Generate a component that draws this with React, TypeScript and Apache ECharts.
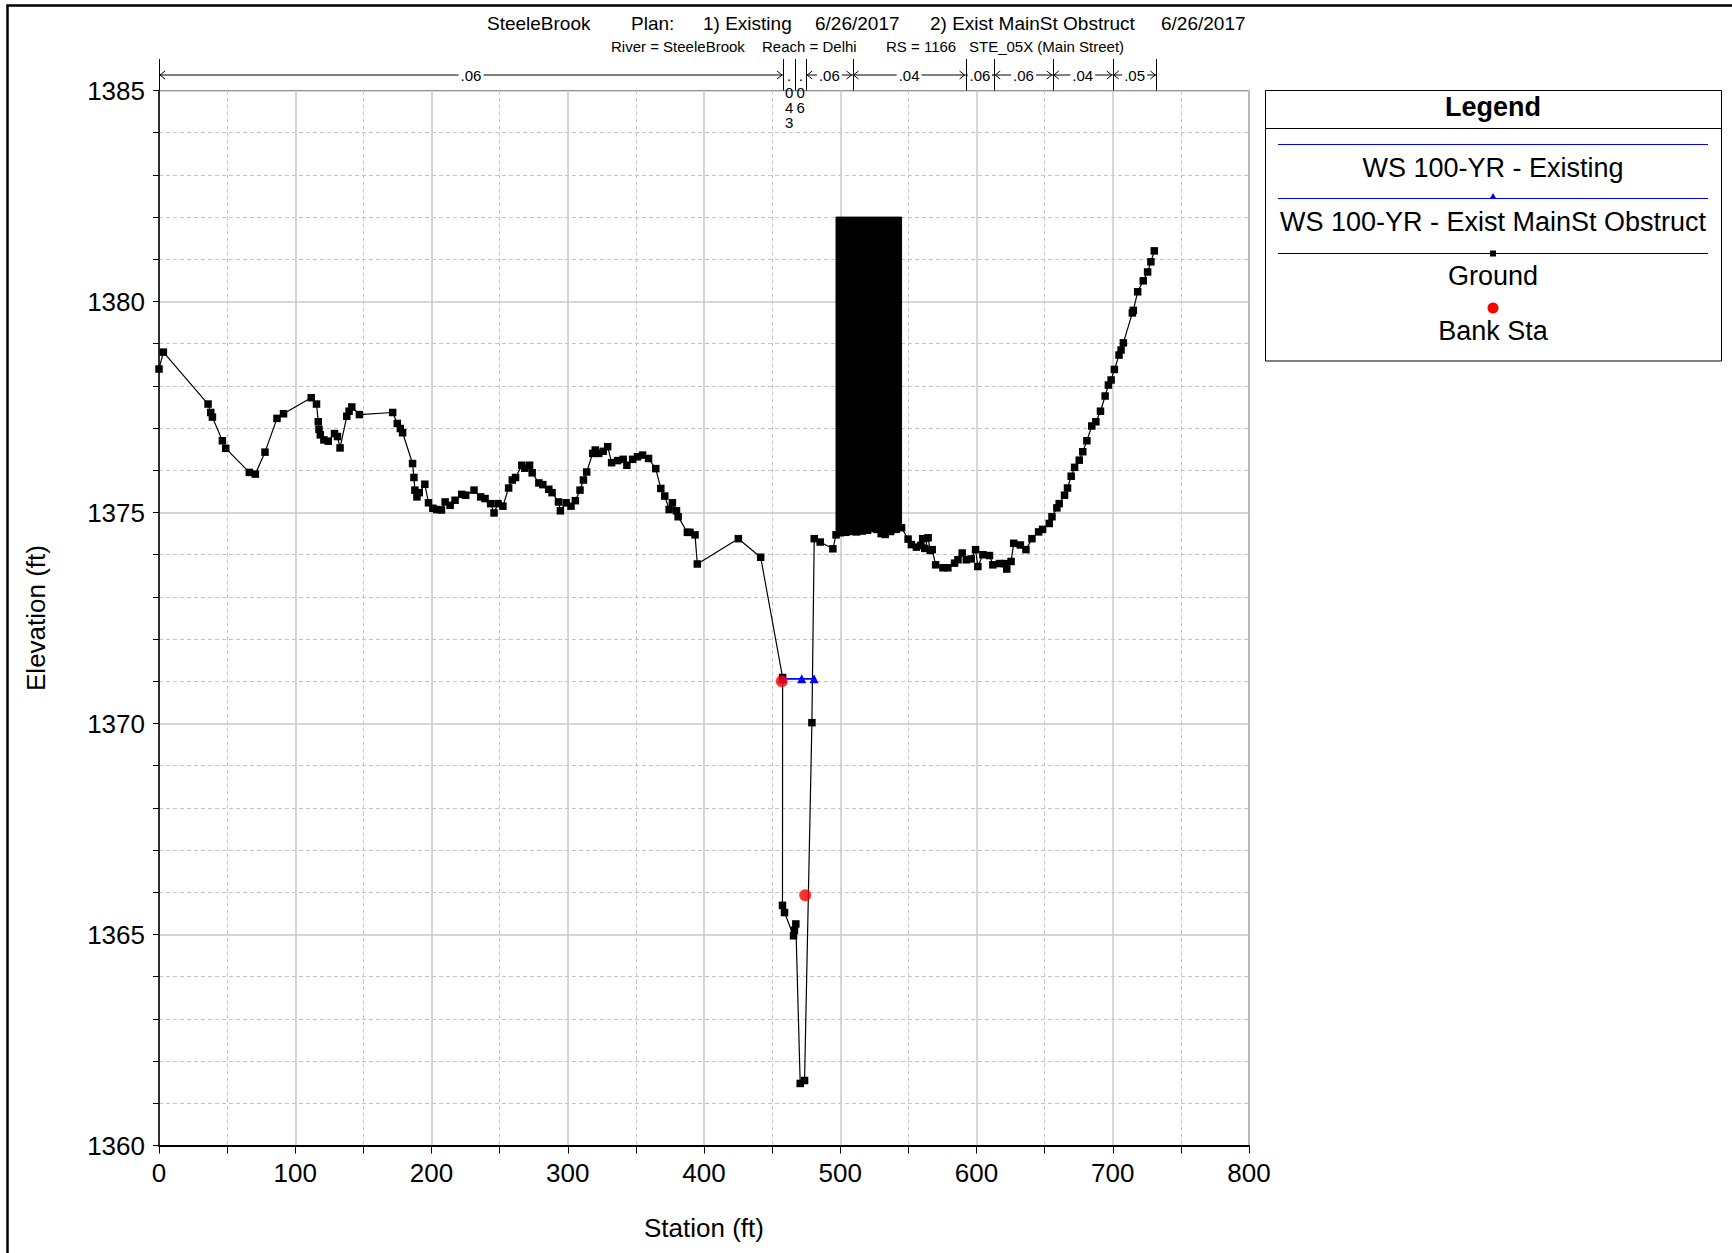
import React, { useEffect, useRef } from 'react';
import * as echarts from 'echarts';

// ---------------- DATA ----------------
const groundStation = [
  0, 3.2, 36.0, 38.0, 39.2, 46.5, 49.0, 66.3, 70.7, 77.8, 86.6, 91.4, 111.7, 115.6, 116.9, 117.4, 118.4, 121.0,
  124.2, 128.8, 131.0, 132.9, 137.8, 139.5, 141.5, 147.1, 171.5, 174.9, 177.1, 178.8, 186.1, 187.1, 187.8, 189.3,
  191.0, 195.1, 197.8, 201.0, 203.9, 207.3, 210.0, 213.7, 217.3, 222.2, 225.1, 231.2, 236.1, 239.3, 243.4, 245.9,
  248.8, 252.4, 256.6, 259.3, 261.7, 266.3, 268.5, 272.0, 273.9, 278.8, 281.7, 286.1, 288.5, 293.2, 294.6, 298.8,
  302.4, 305.6, 309.0, 311.5, 313.9, 318.3, 320.2, 322.7, 326.0, 329.3, 332.2, 336.6, 340.7, 343.4, 347.6, 351.2,
  354.9, 359.3, 364.6, 368.3, 371.2, 374.4, 376.8, 379.8, 381.0, 387.8, 389.7, 393.4, 395.1, 425.2, 441.6, 457.7,
  457.6, 459.1, 465.7, 466.4, 467.4, 470.6, 473.8, 479.2, 480.9, 485.3, 494.6, 496.9, 500.0, 504.0, 508.0, 512.0,
  516.0, 520.0, 524.0, 527.0, 530.0, 533.0, 537.0, 541.0, 545.0, 549.8, 552.2, 555.9, 559.0, 560.5, 562.0, 564.5,
  566.0, 567.5, 570.0, 575.4, 579.0, 583.9, 586.4, 589.5, 592.5, 596.1, 599.3, 601.0, 604.7, 609.5, 612.0, 616.9,
  620.5, 622.2, 625.4, 627.3, 632.2, 636.3, 640.7, 645.6, 648.5, 653.4, 655.4, 659.0, 660.7, 664.6, 666.8, 669.5,
  672.0, 675.4, 678.0, 681.0, 684.6, 687.6, 691.0, 694.4, 696.8, 698.8, 701.2, 704.6, 706.1, 707.8, 714.4, 715.1,
  718.3, 722.4, 725.6, 728.0, 730.5,
];
const groundElev = [
  1378.40, 1378.80, 1377.57, 1377.37, 1377.26, 1376.70, 1376.52, 1375.95, 1375.91, 1376.43, 1377.23, 1377.34,
  1377.72, 1377.57, 1377.15, 1376.97, 1376.84, 1376.72, 1376.69, 1376.87, 1376.80, 1376.53, 1377.28, 1377.40,
  1377.50, 1377.32, 1377.37, 1377.11, 1376.99, 1376.89, 1376.16, 1375.83, 1375.53, 1375.37, 1375.47, 1375.67,
  1375.23, 1375.10, 1375.07, 1375.06, 1375.25, 1375.17, 1375.29, 1375.43, 1375.41, 1375.53, 1375.37, 1375.33,
  1375.21, 1374.99, 1375.21, 1375.15, 1375.58, 1375.77, 1375.83, 1376.12, 1376.05, 1376.12, 1375.94, 1375.70,
  1375.66, 1375.55, 1375.47, 1375.25, 1375.04, 1375.23, 1375.15, 1375.28, 1375.53, 1375.77, 1375.96, 1376.40,
  1376.48, 1376.40, 1376.45, 1376.56, 1376.18, 1376.23, 1376.26, 1376.12, 1376.26, 1376.32, 1376.36, 1376.28,
  1376.04, 1375.57, 1375.39, 1375.07, 1375.23, 1375.04, 1374.90, 1374.53, 1374.53, 1374.47, 1373.78, 1374.38,
  1373.94, 1371.09, 1365.69, 1365.52, 1364.97, 1365.10, 1365.25, 1361.47, 1361.54, 1370.02, 1374.38, 1374.30,
  1374.14, 1374.47, 1374.52, 1374.53, 1374.55, 1374.54, 1374.56, 1374.58, 1374.62, 1374.60, 1374.50, 1374.48,
  1374.55, 1374.60, 1374.64, 1374.37, 1374.24, 1374.18, 1374.22, 1374.38, 1374.15, 1374.40, 1374.10, 1374.12,
  1373.76, 1373.69, 1373.69, 1373.80, 1373.88, 1374.04, 1373.88, 1373.90, 1374.12, 1373.72, 1374.00, 1373.98,
  1373.76, 1373.79, 1373.79, 1373.66, 1373.84, 1374.27, 1374.23, 1374.12, 1374.38, 1374.54, 1374.60, 1374.74,
  1374.90, 1375.11, 1375.21, 1375.41, 1375.58, 1375.86, 1376.07, 1376.24, 1376.44, 1376.70, 1377.05, 1377.15,
  1377.40, 1377.76, 1378.02, 1378.14, 1378.39, 1378.73, 1378.85, 1379.02, 1379.73, 1379.79, 1380.23, 1380.49,
  1380.70, 1380.94, 1381.20,
];

const bankStation = [457.1, 474.3];
const bankElev = [1371.0, 1365.93];

const wsExistingStation = [457.7, 480.8];
const wsExistingElev = [1371.06, 1371.06];

const wsObstructStation = [457.7, 471.7, 480.8];
const wsObstructElev = [1371.06, 1371.06, 1371.06];

const obstructStart = 496.9;
const obstructEnd = 545.0;
const obstructTop = 1382.0;

const nBreaks = [0, 458, 467, 475, 509, 592, 613, 656, 700, 732];
const nValues = ['.06', '.043', '.06', '.06', '.04', '.06', '.06', '.04', '.05'];

const xMin = 0;
const xMax = 800;
const xInterval = 100;
const yMin = 1360;
const yMax = 1385;
const yInterval = 5;

const titleParts = ['SteeleBrook', 'Plan:', '1) Existing', '6/26/2017', '2) Exist MainSt Obstruct', '6/26/2017'];
const subtitleParts = ['River = SteeleBrook', 'Reach = Delhi', 'RS = 1166', 'STE_05X (Main Street)'];
const legendNames = ['WS 100-YR - Existing', 'WS 100-YR - Exist MainSt Obstruct', 'Ground', 'Bank Sta'];

// ---------------- LAYOUT / STYLE ----------------
const FONT = 'Liberation Sans, Arial, sans-serif';
const W = 1732;
const H = 1253;
const titleX = [487, 631, 703, 815, 930, 1161];
const subtitleX = [611, 762, 886, 969];

const zip = (a: number[], b: number[]) => a.map((v, i) => [v, b[i]]);

export default function App() {
  const ref = useRef<HTMLDivElement>(null);

  useEffect(() => {
    if (!ref.current) return;
    const chart = echarts.init(ref.current, null, { renderer: 'svg' });

    const option: any = {
      animation: false,
      backgroundColor: '#ffffff',
      grid: {
        left: 159,
        right: W - 1249,
        top: 90.5,
        bottom: H - 1145.5,
        show: true,
        borderColor: '#000',
        borderWidth: 1,
        backgroundColor: 'transparent',
        containLabel: false,
        outerBoundsMode: 'none',
      },
      xAxis: {
        type: 'value',
        min: xMin,
        max: xMax,
        interval: xInterval,
        axisLine: { show: true, onZero: false, lineStyle: { color: '#000', width: 2 } },
        axisTick: { show: true, length: 8, lineStyle: { color: '#000', width: 1 } },
        minorTick: { show: true, splitNumber: 2, length: 8, lineStyle: { color: '#000', width: 1 } },
        axisLabel: { show: true, color: '#000', fontSize: 26, fontFamily: FONT, margin: 14, formatter: (v: number) => String(v) },
        splitLine: { show: true, lineStyle: { color: '#c8c8c8', width: 1.5 } },
        minorSplitLine: { show: true, lineStyle: { color: '#c4c4c4', width: 1, type: [4, 3] } },
      },
      yAxis: {
        type: 'value',
        min: yMin,
        max: yMax,
        interval: yInterval,
        axisLine: { show: true, onZero: false, lineStyle: { color: '#000', width: 1.5 } },
        axisTick: { show: true, length: 6, lineStyle: { color: '#000', width: 1 } },
        minorTick: { show: true, splitNumber: 5, length: 6, lineStyle: { color: '#000', width: 1 } },
        axisLabel: { show: true, color: '#000', fontSize: 26, fontFamily: FONT, margin: 14, formatter: (v: number) => String(v) },
        splitLine: { show: true, lineStyle: { color: '#c8c8c8', width: 1.5 } },
        minorSplitLine: { show: true, lineStyle: { color: '#c4c4c4', width: 1, type: [4, 3] } },
      },
      series: [
        {
          name: 'Obstruction',
          type: 'custom',
          z: 2,
          data: [[obstructStart, obstructTop]],
          renderItem: (_params: any, api: any) => {
            const pts: number[][] = [api.coord([obstructStart, obstructTop]), api.coord([obstructEnd, obstructTop])];
            for (let i = groundStation.length - 1; i >= 0; i--) {
              if (groundStation[i] >= obstructStart && groundStation[i] <= obstructEnd) {
                pts.push(api.coord([groundStation[i], groundElev[i]]));
              }
            }
            return { type: 'polygon', shape: { points: pts }, style: { fill: '#000', stroke: '#000', lineWidth: 1 } };
          },
        },
        {
          name: legendNames[2],
          type: 'line',
          z: 3,
          data: zip(groundStation, groundElev),
          symbol: 'rect',
          symbolSize: 7.5,
          showSymbol: true,
          lineStyle: { color: '#000', width: 1.2 },
          itemStyle: { color: '#000' },
        },
        {
          name: legendNames[0],
          type: 'line',
          z: 4,
          data: zip(wsExistingStation, wsExistingElev),
          showSymbol: false,
          symbol: 'none',
          lineStyle: { color: '#0000ff', width: 1.5 },
          itemStyle: { color: '#0000ff' },
        },
        {
          name: legendNames[1],
          type: 'line',
          z: 5,
          data: zip(wsObstructStation, wsObstructElev),
          symbol: 'triangle',
          symbolSize: 9,
          showSymbol: true,
          lineStyle: { color: '#0000ff', width: 1.5 },
          itemStyle: { color: '#0000ff' },
        },
        {
          name: legendNames[3],
          type: 'scatter',
          z: 6,
          data: zip(bankStation, bankElev),
          symbol: 'circle',
          symbolSize: 12,
          itemStyle: { color: '#ff0000' },
        },
      ],
    };

    chart.setOption(option);

    const px = (s: number) => chart.convertToPixel({ xAxisIndex: 0 }, s) as number;

    const g: any[] = [];
    // outer frame
    g.push({
      type: 'polyline',
      shape: { points: [[7.5, H + 2], [7.5, 5.5], [W + 2, 5.5]] },
      style: { stroke: '#000', lineWidth: 2.5, fill: 'none' },
      silent: true,
    });
    // titles
    titleParts.forEach((t, i) => {
      g.push({
        type: 'text',
        x: titleX[i],
        y: 23,
        style: { text: t, fontSize: 19, fontFamily: FONT, fill: '#000', align: 'left', verticalAlign: 'middle' },
      });
    });
    subtitleParts.forEach((t, i) => {
      g.push({
        type: 'text',
        x: subtitleX[i],
        y: 46,
        style: { text: t, fontSize: 15, fontFamily: FONT, fill: '#000', align: 'left', verticalAlign: 'middle' },
      });
    });
    // axis names
    g.push({
      type: 'text',
      x: 36,
      y: 618,
      rotation: Math.PI / 2,
      style: { text: 'Elevation (ft)', fontSize: 26, fontFamily: FONT, fill: '#000', align: 'center', verticalAlign: 'middle' },
    });
    g.push({
      type: 'text',
      x: 704,
      y: 1228,
      style: { text: 'Station (ft)', fontSize: 26, fontFamily: FONT, fill: '#000', align: 'center', verticalAlign: 'middle' },
    });

    // Manning's n annotation
    const ny = 75;
    nBreaks.forEach((b) => {
      const x = Math.round(px(b)) + 0.5;
      g.push({ type: 'line', shape: { x1: x, y1: 59, x2: x, y2: 90.5 }, style: { stroke: '#000', lineWidth: 1 }, z: 10 });
    });
    for (let i = 0; i < nValues.length; i++) {
      const x1 = px(nBreaks[i]);
      const x2 = px(nBreaks[i + 1]);
      const w = x2 - x1;
      const cx = (x1 + x2) / 2;
      if (w > 20) {
        g.push({ type: 'line', shape: { x1: x1, y1: ny, x2: x2, y2: ny }, style: { stroke: '#000', lineWidth: 1 }, z: 10 });
        g.push({ type: 'polyline', shape: { points: [[x1 + 6, ny - 4], [x1 + 1, ny], [x1 + 6, ny + 4]] }, style: { stroke: '#000', lineWidth: 1, fill: 'none' }, z: 10 });
        g.push({ type: 'polyline', shape: { points: [[x2 - 6, ny - 4], [x2 - 1, ny], [x2 - 6, ny + 4]] }, style: { stroke: '#000', lineWidth: 1, fill: 'none' }, z: 10 });
        g.push({
          type: 'text',
          x: cx,
          y: ny,
          z: 11,
          style: {
            text: nValues[i],
            fontSize: 15,
            fontFamily: FONT,
            fill: '#000',
            align: 'center',
            verticalAlign: 'middle',
            backgroundColor: '#fff',
            padding: [0, 2],
          },
        });
      } else {
        const chars = nValues[i].split('');
        const ys = [ny, 92, 107, 122];
        chars.forEach((c, k) => {
          g.push({
            type: 'text',
            x: cx,
            y: ys[k],
            z: 11,
            style: { text: c, fontSize: 15, fontFamily: FONT, fill: '#000', align: 'center', verticalAlign: 'middle' },
          });
        });
      }
    }

    // Legend box
    const lx0 = 1265;
    const lx1 = 1721;
    const lcx = (lx0 + lx1) / 2;
    const sx0 = 1278;
    const sx1 = 1708;
    g.push({ type: 'rect', shape: { x: lx0 + 0.5, y: 90.5, width: lx1 - lx0, height: 270.5 }, style: { fill: '#fff', stroke: '#000', lineWidth: 1 } });
    g.push({ type: 'text', x: lcx, y: 107, style: { text: 'Legend', fontSize: 27, fontWeight: 'bold', fontFamily: FONT, fill: '#000', align: 'center', verticalAlign: 'middle' } });
    g.push({ type: 'line', shape: { x1: lx0, y1: 128.5, x2: lx1, y2: 128.5 }, style: { stroke: '#000', lineWidth: 1 } });
    // entry 1
    g.push({ type: 'line', shape: { x1: sx0, y1: 144.5, x2: sx1, y2: 144.5 }, style: { stroke: '#0000ff', lineWidth: 1.2 } });
    g.push({ type: 'text', x: lcx, y: 168, style: { text: legendNames[0], fontSize: 27, fontFamily: FONT, fill: '#000', align: 'center', verticalAlign: 'middle' } });
    // entry 2
    g.push({ type: 'line', shape: { x1: sx0, y1: 198.5, x2: sx1, y2: 198.5 }, style: { stroke: '#0000ff', lineWidth: 1.2 } });
    g.push({ type: 'polygon', shape: { points: [[lcx - 3.5, 199], [lcx + 3.5, 199], [lcx, 193]] }, style: { fill: '#0000ff' } });
    g.push({ type: 'text', x: lcx, y: 222, style: { text: legendNames[1], fontSize: 27, fontFamily: FONT, fill: '#000', align: 'center', verticalAlign: 'middle' } });
    // entry 3
    g.push({ type: 'line', shape: { x1: sx0, y1: 253.5, x2: sx1, y2: 253.5 }, style: { stroke: '#000', lineWidth: 1.2 } });
    g.push({ type: 'rect', shape: { x: lcx - 3, y: 250.5, width: 6, height: 6 }, style: { fill: '#000' } });
    g.push({ type: 'text', x: lcx, y: 276, style: { text: legendNames[2], fontSize: 27, fontFamily: FONT, fill: '#000', align: 'center', verticalAlign: 'middle' } });
    // entry 4
    g.push({ type: 'circle', shape: { cx: lcx, cy: 308, r: 5.5 }, style: { fill: '#ff0000' } });
    g.push({ type: 'text', x: lcx, y: 331, style: { text: legendNames[3], fontSize: 27, fontFamily: FONT, fill: '#000', align: 'center', verticalAlign: 'middle' } });

    chart.setOption({ graphic: g });

    return () => {
      chart.dispose();
    };
  }, []);

  return (
    <div
      ref={ref}
      style={{ position: 'fixed', left: 0, top: 0, width: W, height: H, background: '#fff' }}
    />
  );
}
